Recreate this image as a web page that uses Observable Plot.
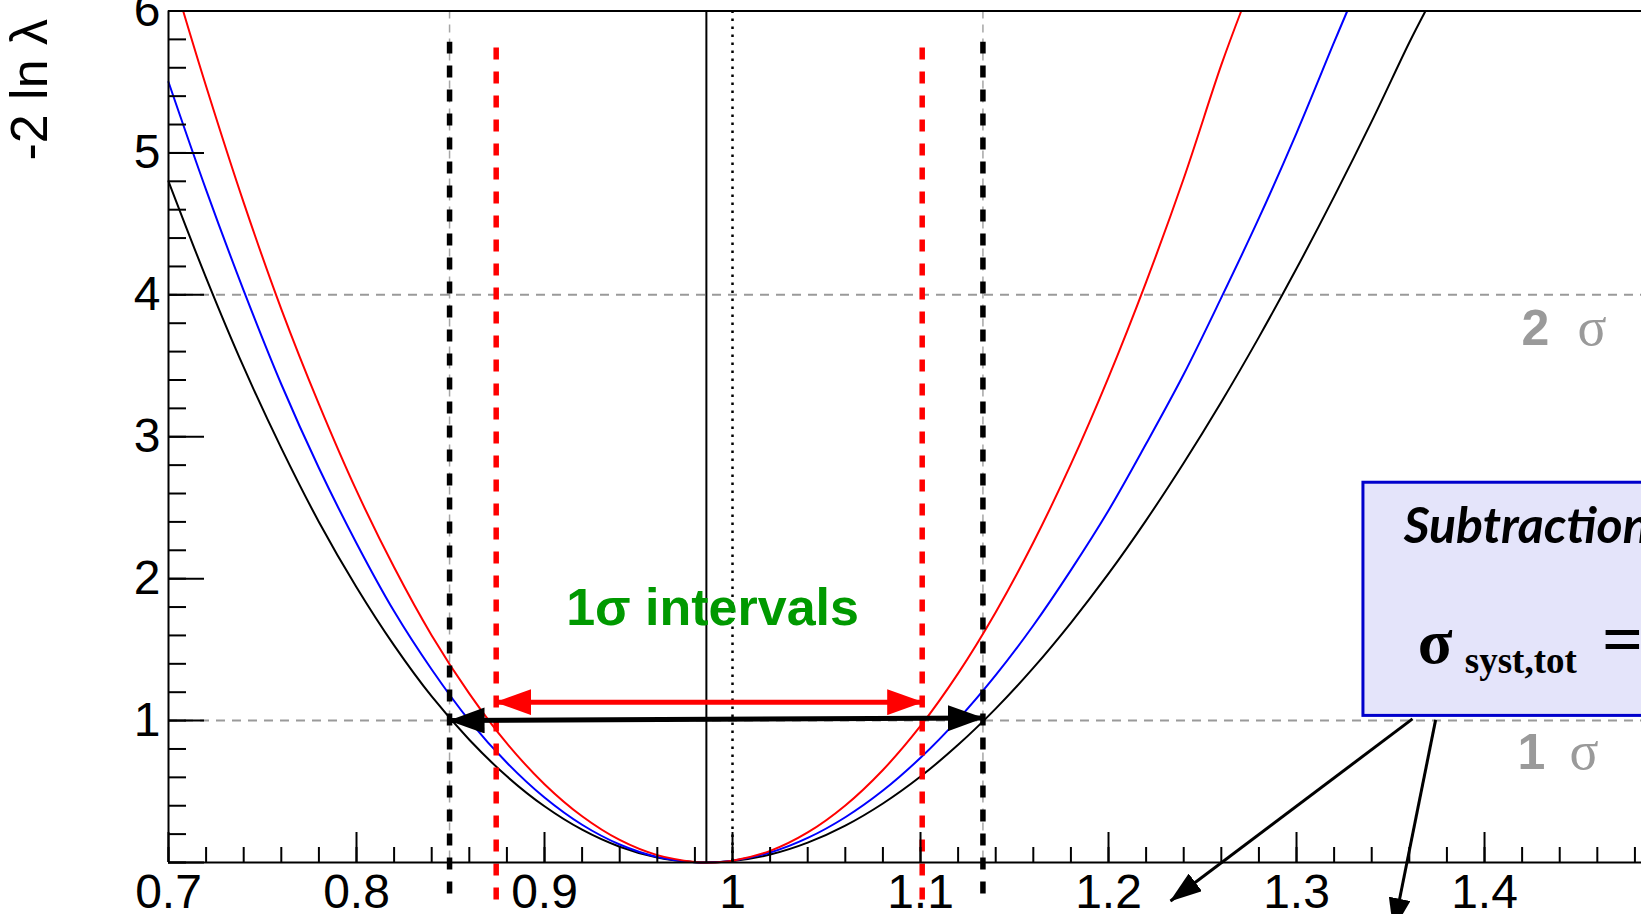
<!DOCTYPE html>
<html>
<head>
<meta charset="utf-8">
<script src="https://cdn.jsdelivr.net/npm/d3@7"></script>
<script src="https://cdn.jsdelivr.net/npm/@observablehq/plot@0.6"></script>
<style>
html, body { margin: 0; padding: 0; background: #fff; overflow: hidden; }
#chart { width: 1641px; height: 914px; overflow: hidden; }
</style>
</head>
<body>
<div id="chart"></div>
<script>
// ---------------- data ----------------
const xTicks = [0.7, 0.8, 0.9, 1, 1.1, 1.2, 1.3, 1.4];
const xMinorTicks = d3.range(0, 40).map(i => +(0.7 + i * 0.02).toFixed(2));
const yTicks = [0, 1, 2, 3, 4, 5, 6];
const yLabels = [1, 2, 3, 4, 5, 6];
const yMinorTicks = d3.range(0, 31).map(i => +(i * 0.2).toFixed(1));

// black curve
const blackX = [0.70,0.72,0.74,0.76,0.78,0.80,0.82,0.84,0.86,0.88,0.90,0.92,0.94,0.96,0.98,0.986,1.00,1.02,1.04,1.06,1.08,1.10,1.12,1.14,1.16,1.18,1.20,1.22,1.24,1.26,1.28,1.30,1.32,1.34,1.36,1.3686];
const blackY = [4.80,4.12,3.49,2.92,2.40,1.94,1.53,1.17,0.865,0.607,0.396,0.231,0.111,0.035,0.002,0,0.01,0.056,0.140,0.260,0.416,0.606,0.829,1.084,1.371,1.689,2.035,2.411,2.815,3.245,3.702,4.185,4.692,5.222,5.778,6.0];
// blue curve
const blueX = [0.70,0.72,0.74,0.76,0.78,0.80,0.82,0.84,0.86,0.88,0.90,0.92,0.94,0.96,0.98,0.985,1.00,1.02,1.04,1.06,1.08,1.10,1.12,1.14,1.16,1.18,1.20,1.22,1.24,1.26,1.28,1.30,1.32,1.327];
const blueY = [5.50,4.74,4.03,3.37,2.78,2.25,1.77,1.36,1.00,0.703,0.458,0.266,0.127,0.039,0.002,0,0.013,0.070,0.173,0.319,0.507,0.738,1.009,1.32,1.67,2.06,2.48,2.95,3.44,3.98,4.54,5.14,5.78,6.0];
// red curve
const redX = [0.7078,0.72,0.74,0.76,0.78,0.80,0.82,0.84,0.86,0.88,0.90,0.92,0.94,0.96,0.98,0.987,1.00,1.02,1.04,1.06,1.08,1.10,1.12,1.14,1.16,1.18,1.20,1.22,1.24,1.26,1.2706];
const redY = [6.0,5.47,4.65,3.90,3.23,2.62,2.08,1.60,1.19,0.839,0.552,0.326,0.159,0.052,0.004,0,0.013,0.082,0.212,0.402,0.652,0.962,1.333,1.764,2.255,2.807,3.419,4.09,4.82,5.62,6.0];

const sigmaLevels = [1, 4];
const bestFit = [0.9861];
const nominal = [1];
const blackInterval = [0.8495, 1.1332];
const redInterval = [0.8743, 1.1009];
const blackDashSpan = [-0.222, 5.78];
const redDashSpan = [-0.264, 5.74];
const redArrowY = [1.13, 1.13];
const blackArrowY = [1.0, 1.018];

const intervalLabel = [{x: 0.9894, y: 1.675, text: "1σ intervals"}];
const sigmaNumbers = [{x: 1.4197, y: 3.649, text: "2"}, {x: 1.4176, y: 0.659, text: "1"}];
const sigmaSymbols = [{x: 1.4495, y: 3.649, text: "σ"}, {x: 1.4452, y: 0.659, text: "σ"}];

const boxSpan = {x1: 1.3356, x2: 1.56, y1: 1.033, y2: 2.676};
const boxTitle = [{x: 1.357, y: 2.253, text: "Subtraction"}];
const boxSigma = [{x: 1.3645, y: 1.4066, text: "σ"}];
const boxSub = [{x: 1.3895, y: 1.336, text: "syst,tot"}];
const boxEq = [{x: 1.4625, y: 1.4066, text: "="}];
const boxArrows = [
  {x1: 1.3617, y1: 1.012, x2: 1.233, y2: -0.271},
  {x1: 1.374, y1: 1.005, x2: 1.3516, y2: -0.47}
];

// ---------------- helpers ----------------
const toRows = (xs, ys) => xs.map((x, i) => ({x, y: ys[i]}));
function head(len, wid, reverse) {
  return (color) => {
    const m = d3.create("svg:marker")
      .attr("viewBox", `0 ${-wid / 2} ${len} ${wid}`)
      .attr("markerWidth", len)
      .attr("markerHeight", wid)
      .attr("markerUnits", "userSpaceOnUse")
      .attr("refX", len - 1)
      .attr("refY", 0)
      .attr("orient", reverse ? "auto-start-reverse" : "auto");
    m.append("path")
      .attr("d", `M0,${-wid / 2}L${len},0L0,${wid / 2}Z`)
      .attr("fill", color)
      .attr("stroke", "none");
    return m.node();
  };
}

const SANS = "'Liberation Sans', Arial, Helvetica, sans-serif";
const SERIF = "'Liberation Serif', 'Times New Roman', serif";

const chart = Plot.plot({
  width: 1641,
  height: 914,
  marginLeft: 168,
  marginRight: 0,
  marginTop: 10.5,
  marginBottom: 52,
  style: {fontFamily: SANS, background: "#fff", color: "black"},
  x: {domain: [0.7, 1.4835], axis: null},
  y: {domain: [0, 6], axis: null},
  marks: [
    // reference lines
    Plot.ruleY(sigmaLevels, {stroke: "#9a9a9a", strokeWidth: 2, strokeDasharray: "9,7"}),
    Plot.ruleX(blackInterval, {stroke: "#a6a6a6", strokeWidth: 1.5, strokeDasharray: "8,6"}),
    // curves
    Plot.line(toRows(blackX, blackY), {x: "x", y: "y", stroke: "black", strokeWidth: 2, curve: "catmull-rom"}),
    Plot.line(toRows(blueX, blueY), {x: "x", y: "y", stroke: "#0000ff", strokeWidth: 2, curve: "catmull-rom"}),
    Plot.line(toRows(redX, redY), {x: "x", y: "y", stroke: "#ff0000", strokeWidth: 2, curve: "catmull-rom"}),
    // best fit and nominal
    Plot.ruleX(bestFit, {stroke: "black", strokeWidth: 2}),
    Plot.ruleX(nominal, {stroke: "black", strokeWidth: 2.5, strokeDasharray: "2.5,5.5"}),
    // interval bounds
    Plot.ruleX(blackInterval, {y1: blackDashSpan[0], y2: blackDashSpan[1], stroke: "black", strokeWidth: 5.5, strokeDasharray: "12,12"}),
    Plot.ruleX(redInterval, {y1: redDashSpan[0], y2: redDashSpan[1], stroke: "#ff0000", strokeWidth: 5.5, strokeDasharray: "12,12"}),
    // double arrows
    Plot.link([0], {x1: () => redInterval[0], y1: () => redArrowY[0], x2: () => redInterval[1], y2: () => redArrowY[1],
      stroke: "#ff0000", strokeWidth: 5, markerStart: head(36, 26, true), markerEnd: head(36, 26, false)}),
    Plot.link([0], {x1: () => blackInterval[0], y1: () => blackArrowY[0], x2: () => blackInterval[1], y2: () => blackArrowY[1],
      stroke: "black", strokeWidth: 5, markerStart: head(36, 26, true), markerEnd: head(36, 26, false)}),
    // labels
    Plot.text(intervalLabel, {x: "x", y: "y", text: "text", fill: "#009900", fontSize: 52, fontWeight: "bold",
      fontFamily: SANS, textAnchor: "middle", lineAnchor: "bottom"}),
    Plot.text(sigmaNumbers, {x: "x", y: "y", text: "text", fill: "#9a9a9a", fontSize: 50, fontWeight: "bold",
      fontFamily: SANS, textAnchor: "start", lineAnchor: "bottom"}),
    Plot.text(sigmaSymbols, {x: "x", y: "y", text: "text", fill: "#9a9a9a", fontSize: 54,
      fontFamily: SERIF, textAnchor: "start", lineAnchor: "bottom"}),
    // info box
    Plot.rect([boxSpan], {x1: "x1", x2: "x2", y1: "y1", y2: "y2", fill: "#e4e4fa", stroke: "#0000cc", strokeWidth: 3}),
    Plot.text(boxTitle, {x: "x", y: "y", text: "text", fontSize: 50, fontWeight: "bold", fontStyle: "italic",
      fontFamily: "Lato, 'Open Sans', sans-serif", textAnchor: "start", lineAnchor: "bottom", fill: "black"}),
    Plot.text(boxSigma, {x: "x", y: "y", text: "text", fontSize: 64, fontWeight: "bold",
      fontFamily: SERIF, textAnchor: "start", lineAnchor: "bottom", fill: "black"}),
    Plot.text(boxSub, {x: "x", y: "y", text: "text", fontSize: 37, fontWeight: "bold",
      fontFamily: SERIF, textAnchor: "start", lineAnchor: "bottom", fill: "black"}),
    Plot.text(boxEq, {x: "x", y: "y", text: "text", fontSize: 72, fontWeight: "bold",
      fontFamily: SERIF, textAnchor: "start", lineAnchor: "bottom", fill: "black"}),
    Plot.link(boxArrows, {x1: "x1", y1: "y1", x2: "x2", y2: "y2", stroke: "black", strokeWidth: 3,
      markerEnd: head(32, 22, false)}),
    // frame
    Plot.ruleX([0.7], {stroke: "black", strokeWidth: 2}),
    Plot.ruleY([0, 6], {stroke: "black", strokeWidth: 2}),
    // axes: ticks drawn inward
    Plot.axisX(xTicks, {tickSize: -30, fill: "none", label: null, strokeWidth: 2}),
    Plot.axisX(xMinorTicks, {tickSize: -15, fill: "none", label: null, strokeWidth: 2}),
    Plot.axisX(xTicks, {tickSize: 0, tickPadding: 11, fontSize: 48, tickFormat: d => String(d), label: null}),
    Plot.axisY(yTicks, {tickSize: -36, fill: "none", label: null, strokeWidth: 2}),
    Plot.axisY(yMinorTicks, {tickSize: -18, fill: "none", label: null, strokeWidth: 2}),
    Plot.axisY(yLabels, {tickSize: 0, tickPadding: 8, fontSize: 48, tickFormat: d => String(d), label: null}),
    Plot.text(["-2 ln λ"], {frameAnchor: "top-left", text: d => d, rotate: -90, textAnchor: "end",
      lineAnchor: "top", dx: -158, dy: 8, fontSize: 52, fontFamily: SANS, fill: "black"})
  ]
});
document.getElementById("chart").appendChild(chart);
</script>
</body>
</html>
